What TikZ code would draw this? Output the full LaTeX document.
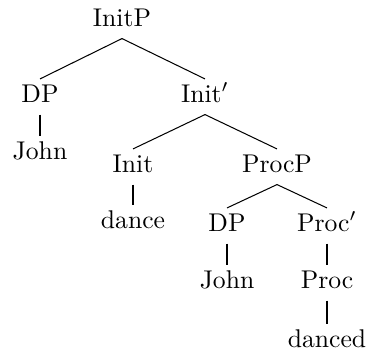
\documentclass[tikz,border=0pt]{standalone}
\begin{document}
\begin{tikzpicture}[x=0.39pt,y=-0.39pt,
  cat/.style={anchor=base,inner sep=0pt,text height=8.8pt,text depth=4.7pt},
  branch/.style={line width=0.4pt}]
\useasboundingbox (0,0) rectangle (368,351);
% labels of the tree, placed on their baselines
\node[cat] (initp)  at (122,26)  {InitP};
\node[cat] (dp1)    at (40,102)  {DP};
\node[cat] (initb)  at (205,102) {Init$'$};
\node[cat] (john1)  at (40,159)  {John};
\node[cat] (init)   at (133,172) {Init};
\node[cat] (procp)  at (277,172) {ProcP};
\node[cat] (dance)  at (133,228) {dance};
\node[cat] (dp2)    at (227,231) {DP};
\node[cat] (procb)  at (327,231) {Proc$'$};
\node[cat] (john2)  at (227,288) {John};
\node[cat] (proc)   at (327,288) {Proc};
\node[cat] (danced) at (327,347) {danced};
% branches
\draw[branch] (initp.south) -- (dp1.north);
\draw[branch] (initp.south) -- (initb.north);
\draw[branch] (dp1.south) -- (john1.north);
\draw[branch] (initb.south) -- (init.north);
\draw[branch] (initb.south) -- (procp.north);
\draw[branch] (init.south) -- (dance.north);
\draw[branch] (procp.south) -- (dp2.north);
\draw[branch] (procp.south) -- (procb.north);
\draw[branch] (dp2.south) -- (john2.north);
\draw[branch] (procb.south) -- (proc.north);
\draw[branch] (proc.south) -- (danced.north);
\end{tikzpicture}
\end{document}
